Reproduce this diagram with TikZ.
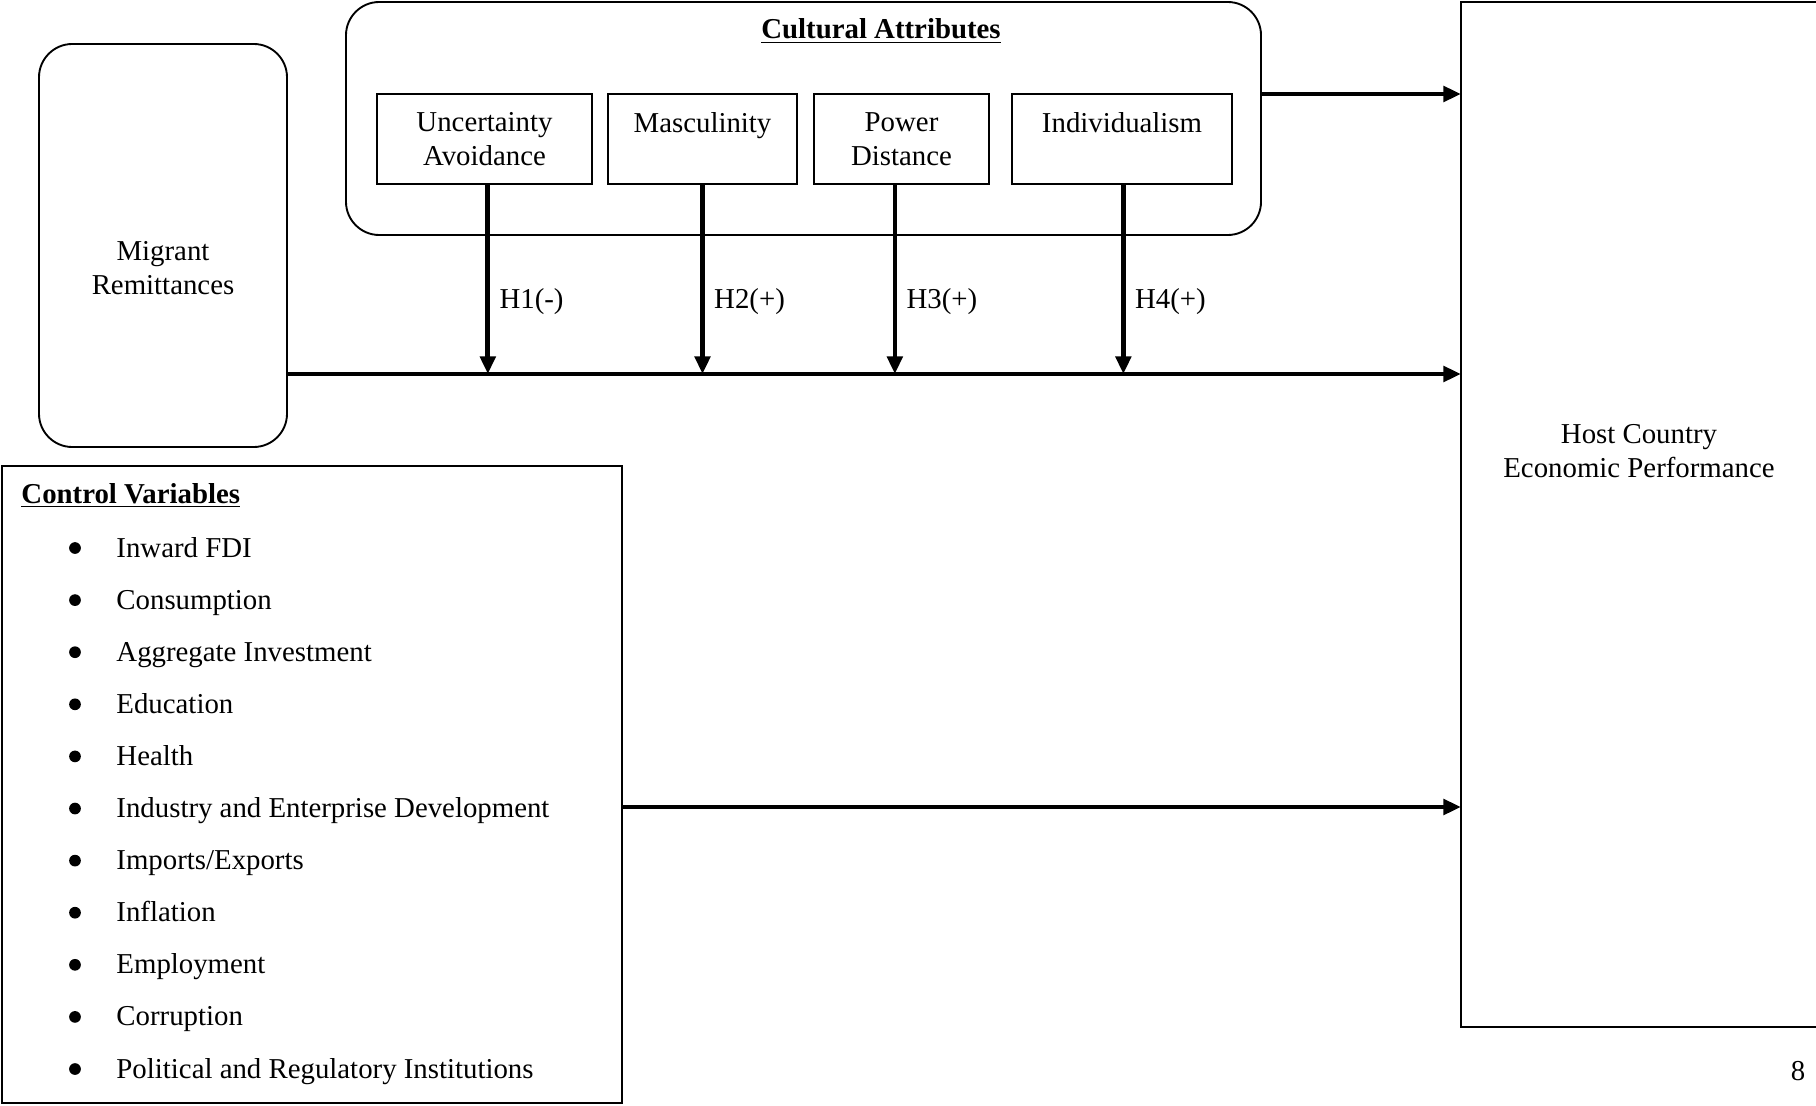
\documentclass[tikz,border=0pt]{standalone}
\usepackage{fontspec}
\setmainfont{Liberation Serif}
\usetikzlibrary{arrows.meta,positioning}

\tikzset{
  box/.style={draw, line width=0.8pt, outer sep=0pt},
  rbox/.style={box, rounded corners=0.5cm},
  cbox/.style={box, align=center, minimum height=1.35cm},
  arr/.style={line width=2pt, -{Triangle[length=7.5pt,width=6.5pt]}},
  hlab/.style={right, pos=0.62, inner sep=4pt},
  cvitem/.style={anchor=base west, inner sep=0pt},
  cvbullet/.style={circle, fill, inner sep=0pt, minimum size=5pt},
}

\begin{document}
\begin{tikzpicture}[x=0.015cm, y=-0.015cm, font=\fontsize{12.3}{14.5}\selectfont]
\useasboundingbox (0,0) rectangle (1816,1105);

\node[box, minimum width=5.535cm, minimum height=15.375cm] (host) at (1645.5,514.5) {};
\node[align=center] (hostlbl) at (1639,451) {Host Country\\Economic Performance};

\node[rbox, minimum width=3.72cm, minimum height=6.045cm,
      label={[align=center, yshift=-0.34cm]center:Migrant\\Remittances}] (mig) at (163,245.5) {};

\node[rbox, minimum width=13.725cm, minimum height=3.495cm] (cult) at (803.5,118.5) {};
\node (culttitle) at (881,31) {\underline{\textbf{Cultural Attributes}}};

\node[cbox, minimum width=3.225cm] (ua)   at (484.5,139)       {Uncertainty\\Avoidance};
\node[cbox, minimum width=2.835cm] (masc) [right=0.24cm of ua]   {Masculinity\\\vphantom{A}};
\node[cbox, minimum width=2.625cm] (pd)   [right=0.255cm of masc] {Power\\Distance};
\node[cbox, minimum width=3.3cm]   (ind)  [right=0.345cm of pd]   {Individualism\\\vphantom{A}};

\node[box, minimum width=9.3cm, minimum height=9.555cm] (ctrl) at (312,784.5) {};
\node[cvitem] (ctrltitle) at (21,503) {\underline{\textbf{Control Variables}}};

\foreach \t [count=\i] in {Inward FDI, Consumption, Aggregate Investment, Education, Health,
    Industry and Enterprise Development, Imports/Exports, Inflation, Employment,
    Corruption, Political and Regulatory Institutions} {
  \node[cvbullet] (bul\i) at (75,{548+52.1*(\i-1)}) {};
  \node[cvitem] (cv\i) at (116,{557+52.1*(\i-1)}) {\t};
}

\node (pnum) at (1798,1071) {8};

\coordinate (mline) at (0,374);
\coordinate (cvline) at (0,807);

\draw[arr] (mig.east |- mline) -- (host.west |- mline);
\draw[arr] (cult.east |- ua.north) -- (host.west |- ua.north);
\draw[arr] (ctrl.east |- cvline) -- (host.west |- cvline);

\path[arr]
    ([xshift=0.05cm]ua.south)  edge node[hlab] {H1(-)} ([xshift=0.05cm]ua.south |- mline)
    (masc.south)               edge node[hlab] {H2(+)} (masc.south |- mline)
    ([xshift=-0.1cm]pd.south)  edge node[hlab] {H3(+)} ([xshift=-0.1cm]pd.south |- mline)
    ([xshift=0.02cm]ind.south) edge node[hlab] {H4(+)} ([xshift=0.02cm]ind.south |- mline);
\end{tikzpicture}
\end{document}
